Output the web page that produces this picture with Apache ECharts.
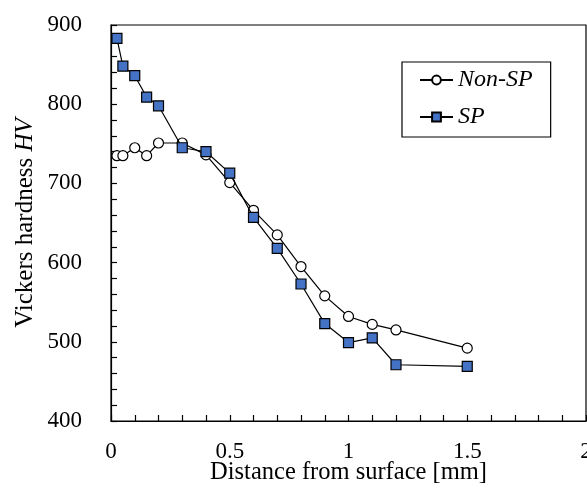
<!DOCTYPE html>
<html>
<head>
<meta charset="utf-8">
<script src="https://cdn.jsdelivr.net/npm/echarts@6/dist/echarts.min.js"></script>
<style>
  html, body { margin: 0; padding: 0; background: #fff; }
  #chart { width: 587px; height: 490px; }
</style>
</head>
<body>
<div id="chart"></div>
<script>
// Hardness profiles measured from the surface
const distance = [0.025, 0.05, 0.1, 0.15, 0.2, 0.3, 0.4, 0.5, 0.6, 0.7, 0.8, 0.9, 1.0, 1.1, 1.2, 1.5];
const nonSP = [735, 735, 745, 735, 751, 751, 736, 701, 666, 635, 595, 558, 532, 522, 515, 492];
const sp = [883, 848, 836, 809, 798, 745, 740, 713, 657, 618, 573, 523, 499, 505, 471, 469];
const xTicks = ['0', '0.5', '1', '1.5', '2'];

const FONT = '"Liberation Serif", "Times New Roman", serif';

const pairs = (xs, ys) => xs.map((x, i) => [x, ys[i]]);

const chart = echarts.init(document.getElementById('chart'), null, { renderer: 'canvas' });

chart.setOption({
  backgroundColor: '#fff',
  animation: false,
  textStyle: { fontFamily: FONT, color: '#000' },
  grid: {
    left: 111, top: 25, right: 1, bottom: 69,
    containLabel: false, outerBoundsMode: 'none',
    show: true, borderColor: '#000', borderWidth: 1.2, backgroundColor: 'transparent'
  },
  legend: {
    orient: 'vertical',
    left: 402, top: 62,
    padding: [6, 18, 8, 17],
    borderColor: '#000', borderWidth: 1.2,
    backgroundColor: '#fff',
    itemWidth: 33, itemHeight: 11, itemGap: 13,
    textStyle: { fontFamily: FONT, fontSize: 24, fontStyle: 'italic', color: '#000', lineHeight: 24 },
    data: ['Non-SP', 'SP']
  },
  xAxis: {
    type: 'value', min: 0, max: 2, interval: 0.5,
    name: 'Distance from surface [mm]',
    nameLocation: 'middle', nameGap: 39, nameMoveOverlap: false,
    nameTextStyle: { fontFamily: FONT, fontSize: 24.5, color: '#000' },
    axisLine: { lineStyle: { color: '#000', width: 1.2 } },
    axisTick: { inside: true, length: 6, lineStyle: { color: '#000', width: 1.2 } },
    minorTick: { show: true, splitNumber: 5, length: 6, lineStyle: { color: '#000', width: 1.2 } },
    splitLine: { show: false },
    axisLabel: {
      margin: 19, fontFamily: FONT, fontSize: 23, color: '#000',
      formatter: (v) => xTicks[Math.round(v / 0.5)]
    }
  },
  yAxis: {
    type: 'value', min: 400, max: 900, interval: 100,
    name: 'Vickers hardness {i|HV}',
    nameLocation: 'middle', nameGap: 73, nameMoveOverlap: false,
    nameTextStyle: {
      fontFamily: FONT, fontSize: 25, color: '#000',
      rich: { i: { fontFamily: FONT, fontSize: 25, fontStyle: 'italic', color: '#000' } }
    },
    axisLine: { show: true, lineStyle: { color: '#000', width: 1.2 } },
    axisTick: { show: true, inside: true, length: 6, lineStyle: { color: '#000', width: 1.2 } },
    minorTick: { show: true, splitNumber: 5, length: 6, lineStyle: { color: '#000', width: 1.2 } },
    splitLine: { show: false },
    axisLabel: { margin: 29, fontFamily: FONT, fontSize: 23, color: '#000' }
  },
  series: [
    {
      name: 'Non-SP', type: 'line',
      data: pairs(distance, nonSP),
      symbol: 'circle', symbolSize: 10,
      lineStyle: { color: '#000', width: 1.2 },
      itemStyle: { color: '#fff', borderColor: '#000', borderWidth: 1.2 },
      z: 2
    },
    {
      name: 'SP', type: 'line',
      data: pairs(distance, sp),
      symbol: 'rect', symbolSize: 10,
      lineStyle: { color: '#000', width: 1.2 },
      itemStyle: { color: '#4472C4', borderColor: '#000', borderWidth: 1.2 },
      z: 3
    }
  ]
});
</script>
</body>
</html>
